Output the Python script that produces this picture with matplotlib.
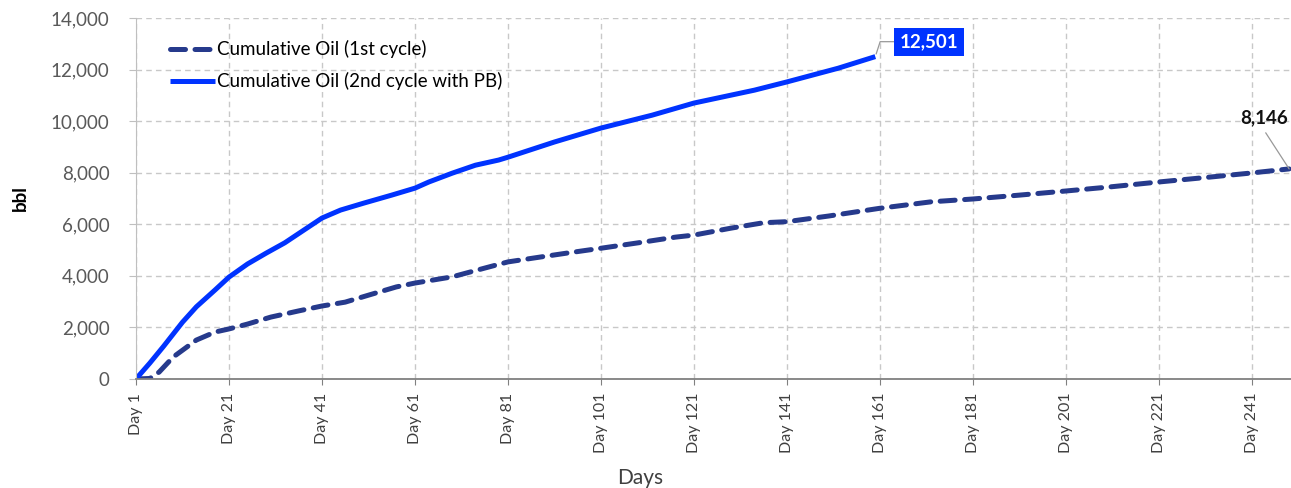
import matplotlib.pyplot as plt

plt.rcParams['font.family'] = ['Lato', 'DejaVu Sans']

# Cumulative oil, 2nd cycle with PB
days_2nd = [1, 4, 7, 11, 14, 18, 21, 25, 29, 33, 37, 41, 45, 50, 56, 61, 64, 69,
            74, 79, 81, 91, 101, 112, 121, 134, 141, 152, 160]
oil_2nd = [0, 620, 1280, 2200, 2800, 3450, 3950, 4460, 4880, 5280, 5760, 6240,
           6550, 6820, 7130, 7400, 7640, 7980, 8290, 8490, 8600, 9190, 9730,
           10230, 10700, 11200, 11520, 12050, 12501]

# Cumulative oil, 1st cycle
days_1st = [1, 4, 6, 9, 14, 18, 21, 25, 30, 36, 41, 46, 51, 57, 61, 69, 76, 81,
            88, 94, 101, 109, 117, 121, 129, 136, 141, 150, 161, 172, 181, 191,
            201, 210, 221, 232, 241, 249]
oil_1st = [0, 20, 270, 850, 1510, 1820, 1940, 2130, 2400, 2640, 2830, 2980,
           3250, 3570, 3720, 3960, 4300, 4540, 4730, 4890, 5070, 5280, 5500,
           5580, 5850, 6060, 6100, 6320, 6620, 6870, 6980, 7130, 7290, 7440,
           7640, 7830, 7990, 8146]

tick_days = list(range(1, 250, 20))
tick_labels = [f'Day {d}' for d in tick_days]
y_ticks = list(range(0, 14001, 2000))

blue = '#0033FF'
navy = '#263A8C'
grid_c = '#C8C8C8'
txt_c = '#595959'

fig = plt.figure(figsize=(12.91, 4.88), dpi=100)
ax = fig.add_axes([0.1053, 0.2234, 0.8947, 0.7398])

ax.plot(days_1st, oil_1st, color=navy, lw=3.6, dashes=(3.0, 1.9),
        dash_capstyle='round', label='Cumulative Oil (1st cycle)')
ax.plot(days_2nd, oil_2nd, color=blue, lw=3.6, solid_capstyle='butt',
        label='Cumulative Oil (2nd cycle with PB)')

ax.set_xlim(1, 249.4)
ax.set_ylim(0, 14000)
ax.set_xticks(tick_days)
ax.set_xticklabels(tick_labels, rotation=90, fontsize=11.5, color='#404040')
ax.set_yticks(y_ticks)
ax.set_yticklabels([f'{v:,}' for v in y_ticks], fontsize=13.5, color=txt_c)

ax.grid(True, color=grid_c, ls=(0, (4, 3)), lw=1)
ax.set_axisbelow(True)
for s in ['top', 'right']:
    ax.spines[s].set_visible(False)
ax.spines['left'].set_color('#BFBFBF')
ax.spines['bottom'].set_color('#808080')
ax.spines['bottom'].set_linewidth(1.3)
ax.tick_params(axis='x', length=4, color='#808080', pad=6)
ax.tick_params(axis='y', length=5, color='#BFBFBF', pad=14)

fig.text(0.496, 0.021, 'Days', fontsize=15, color='#404040',
         ha='center', va='center')
ax.set_ylabel('bbl', fontsize=13.5, fontweight='bold', labelpad=16)

ax.legend(loc='upper left', bbox_to_anchor=(0.015, 0.985), frameon=False,
          fontsize=13.5, handlelength=2.4, handletextpad=0.1,
          labelspacing=0.75)

# data labels at series ends
ax.annotate(f'{oil_2nd[-1]:,}', xy=(days_2nd[-1], oil_2nd[-1]),
            xytext=(171.5, 13080), ha='center', va='center',
            fontsize=13.5, fontweight='bold', color='white',
            bbox=dict(boxstyle='square,pad=0.3', fc=blue, ec='none'),
            arrowprops=dict(arrowstyle='-', color='#999999', lw=0.9,
                            shrinkA=0, shrinkB=2, relpos=(0, 0.5),
                            connectionstyle='angle,angleA=0,angleB=72,rad=0'))
ax.annotate(f'{oil_1st[-1]:,}', xy=(days_1st[-1], oil_1st[-1]),
            xytext=(243.6, 10120), ha='center', va='center',
            fontsize=13.5, fontweight='bold', color='#111111',
            arrowprops=dict(arrowstyle='-', color='#999999', lw=0.9,
                            shrinkA=3, shrinkB=0, relpos=(0.45, 0)))

fig.savefig('out.png', dpi=100)
